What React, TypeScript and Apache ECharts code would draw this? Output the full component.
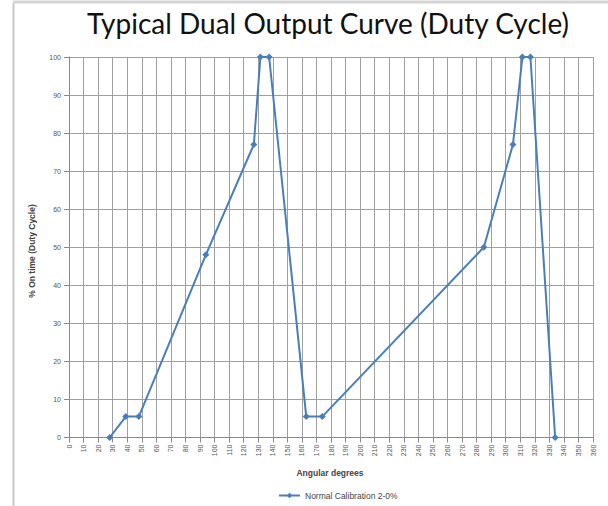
import React, { useEffect, useRef } from "react";
import * as echarts from "echarts";

const angles = [28, 39, 48, 94, 127, 131.5, 137.5, 163, 174, 285, 305, 311.5, 317, 334];
const dutyCycle = [0, 5.5, 5.5, 48, 77, 100, 100, 5.5, 5.5, 50, 77, 100, 100, 0];
const seriesName = "Normal Calibration 2-0%";
const titleText = "Typical Dual Output Curve (Duty Cycle)";
const xAxisName = "Angular degrees";
const yAxisName = "% On time (Duty Cycle)";

export default function App() {
  const ref = useRef<HTMLDivElement>(null);
  useEffect(() => {
    if (!ref.current) return;
    const chart = echarts.init(ref.current, undefined, { renderer: "svg" });
    const data = angles.map((a, i) => [a, dutyCycle[i]]);
    chart.setOption({
      animation: false,
      backgroundColor: "#ffffff",
      title: {
        text: titleText,
        left: 323,
        textAlign: "center",
        top: 4,
        textStyle: { fontFamily: "Lato", fontSize: 28, fontWeight: "normal", color: "#111" },
      },
      grid: { left: 69, right: 15, top: 57, bottom: 68.5 },
      xAxis: {
        type: "value",
        min: 0,
        max: 360,
        interval: 10,
        axisLine: { show: true, lineStyle: { color: "#8a8a8a", width: 1 } },
        axisTick: { show: true, length: 5, lineStyle: { color: "#8a8a8a" } },
        splitLine: { show: true, lineStyle: { color: "#a0a0a0", width: 1 } },
        axisLabel: {
          rotate: 90,
          fontSize: 7,
          color: "#555",
          fontFamily: "Liberation Sans",
          margin: 7,
        },
      },
      yAxis: {
        type: "value",
        min: 0,
        max: 100,
        interval: 10,
        axisLine: { show: true, lineStyle: { color: "#8a8a8a", width: 1 } },
        axisTick: { show: true, length: 5, lineStyle: { color: "#8a8a8a" } },
        splitLine: { show: true, lineStyle: { color: "#a0a0a0", width: 1 } },
        axisLabel: { fontSize: 7, color: "#555", fontFamily: "Liberation Sans", margin: 8 },
      },
      legend: {
        show: true,
        top: 486,
        left: 273,
        itemWidth: 21,
        itemHeight: 7,
        itemGap: 4,
        textStyle: { fontSize: 8.5, color: "#444", fontFamily: "Liberation Sans" },
        data: [seriesName],
      },
      graphic: [
        { type: "line", shape: { x1: 13.5, y1: 3, x2: 13.5, y2: 506 }, style: { stroke: "#c8c8c8", lineWidth: 2 } },
        { type: "line", shape: { x1: 13, y1: 2, x2: 608, y2: 2 }, style: { stroke: "#d4d4d4", lineWidth: 3 } },
        {
          type: "text",
          x: 32,
          y: 251,
          rotation: Math.PI / 2,
          style: {
            text: yAxisName,
            fontSize: 8.5,
            fontWeight: "bold",
            fill: "#444",
            fontFamily: "Liberation Sans",
            align: "center",
            verticalAlign: "middle",
          },
        },
        {
          type: "text",
          x: 330,
          y: 473,
          style: {
            text: xAxisName,
            fontSize: 8.5,
            fontWeight: "bold",
            fill: "#444",
            fontFamily: "Liberation Sans",
            align: "center",
            verticalAlign: "middle",
          },
        },
      ],
      series: [
        {
          name: seriesName,
          type: "line",
          data,
          color: "#4a7ebb",
          lineStyle: { width: 2, color: "#4a7ebb" },
          symbol: "diamond",
          symbolSize: 7,
          itemStyle: { color: "#4a7ebb" },
        },
      ],
    });
    return () => chart.dispose();
  }, []);
  return (
    <div
      ref={ref}
      style={{ position: "fixed", left: 0, top: 0, width: 608, height: 506 }}
    />
  );
}
